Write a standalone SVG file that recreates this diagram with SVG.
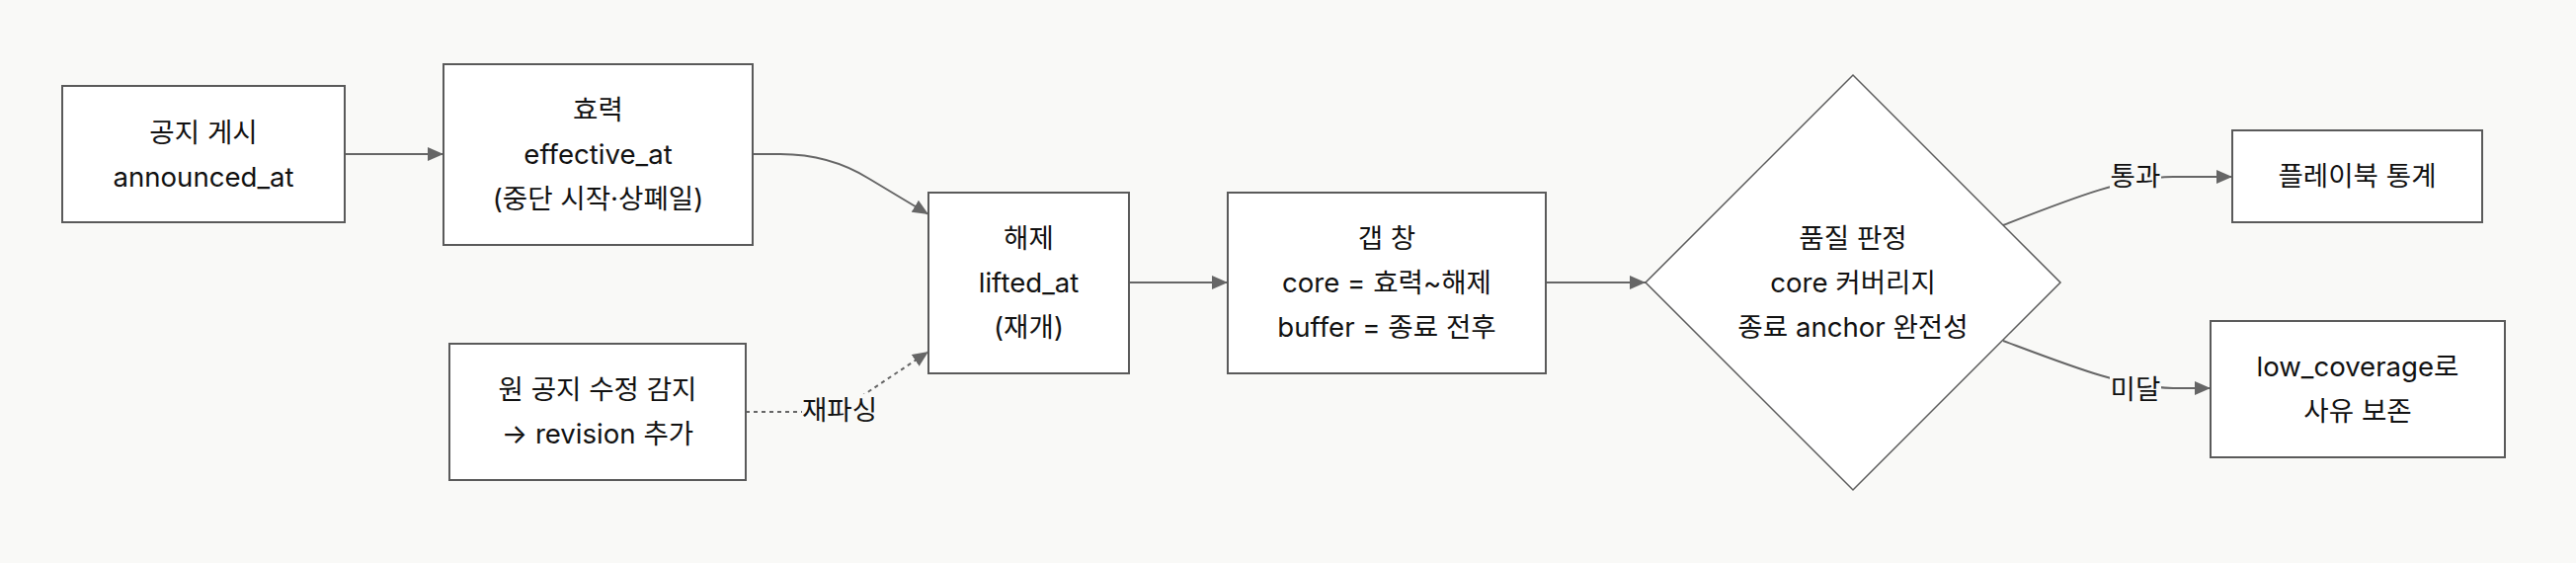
<svg xmlns="http://www.w3.org/2000/svg" width="2608" height="570" viewBox="0 0 2608 570">
<style>
.bg{fill:#f9f9f7}
.box{fill:#ffffff;stroke:#5a5a5a;stroke-width:2}
.t{font-family:Inter,"Noto Sans CJK KR",sans-serif;font-size:27.6px;fill:#111;text-anchor:middle}
.e{fill:none;stroke:#666;stroke-width:2}
.d{fill:none;stroke:#666;stroke-width:2;stroke-dasharray:4 4}
.lb{fill:#f9f9f7}
</style>
<defs>
<marker id="ah" viewBox="0 0 16 14" refX="16" refY="7" markerWidth="16" markerHeight="14" markerUnits="userSpaceOnUse" orient="auto">
<path d="M0,0 L16,7 L0,14 Z" fill="#666"/>
</marker>
</defs>
<rect class="bg" x="0" y="0" width="2608" height="570"/>
<g id="connectors">
<path class="e" d="M349,156 L449,156" marker-end="url(#ah)"/>
<path class="e" d="M762,156 L790,156 Q840,156 880,181 L940,217" marker-end="url(#ah)"/>
<path class="d" d="M755,417 L815,417 Q850,417 880,396 L940,356" marker-end="url(#ah)"/>
<path class="e" d="M1143,286 L1243,286" marker-end="url(#ah)"/>
<path class="e" d="M1565,286 L1666,286" marker-end="url(#ah)"/>
<path class="e" d="M2028,228 C2100,200 2150,180 2200,179 L2260,179" marker-end="url(#ah)"/>
<path class="e" d="M2028,345 C2100,372 2150,392 2200,393 L2238,393" marker-end="url(#ah)"/>
<g id="label-reparse"><rect class="lb" x="812" y="399" width="76" height="34"/><text class="t" x="850" y="425">재파싱</text></g>
<g id="label-pass"><rect class="lb" x="2136" y="162" width="52" height="34"/><text class="t" x="2162" y="188">통과</text></g>
<g id="label-fail"><rect class="lb" x="2136" y="377" width="52" height="34"/><text class="t" x="2162" y="404">미달</text></g>
</g>
<g id="n-announce">
<rect class="box" x="63" y="87" width="286" height="138"/>
<text class="t" x="206" y="144">공지 게시</text>
<text class="t" x="206" y="189">announced_at</text>
</g>
<g id="n-effective">
<rect class="box" x="449" y="65" width="313" height="183"/>
<text class="t" x="605.5" y="121">효력</text>
<text class="t" x="605.5" y="166">effective_at</text>
<text class="t" x="605.5" y="211">(중단 시작·상폐일)</text>
</g>
<g id="n-lifted">
<rect class="box" x="940" y="195" width="203" height="183"/>
<text class="t" x="1041.5" y="251">해제</text>
<text class="t" x="1041.5" y="296">lifted_at</text>
<text class="t" x="1041.5" y="341">(재개)</text>
</g>
<g id="n-gap">
<rect class="box" x="1243" y="195" width="322" height="183"/>
<text class="t" x="1404" y="251">갭 창</text>
<text class="t" x="1404" y="296">core = 효력~해제</text>
<text class="t" x="1404" y="341">buffer = 종료 전후</text>
</g>
<g id="n-quality">
<polygon class="box" points="1666,286 1876,76 2086,286 1876,496" style="stroke-width:1.5"/>
<text class="t" x="1876" y="251">품질 판정</text>
<text class="t" x="1876" y="296">core 커버리지</text>
<text class="t" x="1876" y="341">종료 anchor 완전성</text>
</g>
<g id="n-playbook">
<rect class="box" x="2260" y="132" width="253" height="93"/>
<text class="t" x="2386.5" y="188">플레이북 통계</text>
</g>
<g id="n-lowcov">
<rect class="box" x="2238" y="325" width="298" height="138"/>
<text class="t" x="2387" y="381">low_coverage로</text>
<text class="t" x="2387" y="426">사유 보존</text>
</g>
<g id="n-revision">
<rect class="box" x="455" y="348" width="300" height="138"/>
<text class="t" x="605" y="404">원 공지 수정 감지</text>
<text class="t" x="605" y="449">→ revision 추가</text>
</g>
</svg>
